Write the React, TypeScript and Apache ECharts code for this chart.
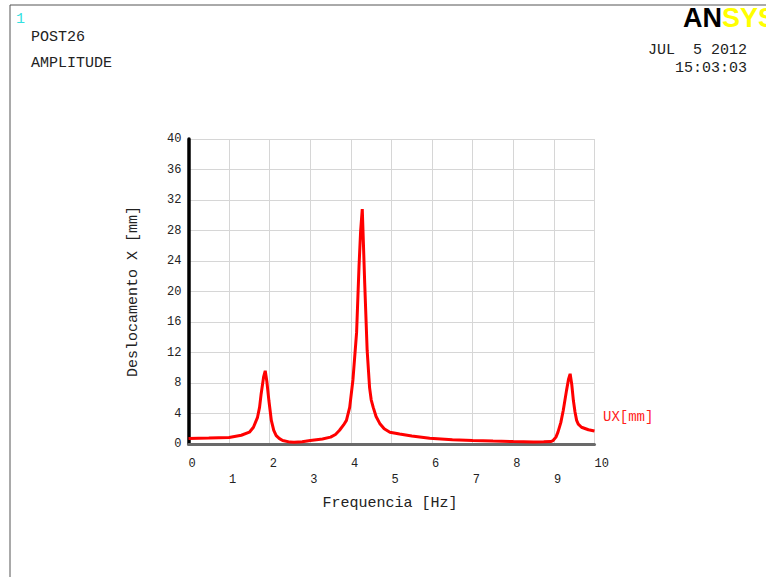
import React, { useEffect, useRef } from "react";
import * as echarts from "echarts";

// Frequency response (ANSYS POST26 amplitude)
const freqHz: number[] = [
  0.0, 0.5, 1.0, 1.3, 1.5, 1.6, 1.7, 1.75, 1.79, 1.85, 1.89, 1.93, 1.98, 2.04, 2.1, 2.16, 2.24, 2.32, 2.5,
  2.6, 2.8, 3.0, 3.3, 3.5, 3.62, 3.72, 3.82, 3.89, 3.97, 4.05, 4.14, 4.2, 4.24, 4.28, 4.31, 4.34, 4.4,
  4.46, 4.5, 4.55, 4.62, 4.71, 4.82, 4.96, 5.2, 5.5, 5.94, 6.5, 7.0, 7.5, 8.0, 8.5, 8.75, 8.92, 8.98,
  9.05, 9.1, 9.17, 9.23, 9.31, 9.36, 9.4, 9.44, 9.48, 9.52, 9.56, 9.6, 9.68, 9.85, 10.0,
];
const uxMm: number[] = [
  0.72, 0.78, 0.85, 1.15, 1.55, 2.2, 3.5, 4.8, 6.6, 8.8, 9.6, 8.2, 5.7, 3.1, 1.8, 1.1, 0.7, 0.45, 0.25,
  0.22, 0.3, 0.46, 0.65, 0.9, 1.25, 1.8, 2.5, 3.1, 4.8, 8.4, 14.6, 23.3, 28.0, 30.8, 26.0, 21.1, 12.3,
  7.4, 5.8, 4.8, 3.6, 2.7, 2.0, 1.55, 1.3, 1.05, 0.75, 0.55, 0.45, 0.38, 0.32, 0.27, 0.28, 0.32, 0.45,
  0.9, 1.55, 2.8, 4.4, 7.0, 8.5, 9.2, 7.8, 5.7, 4.2, 3.1, 2.6, 2.2, 1.87, 1.7,
];

const xTicks = { min: 0, max: 10, interval: 1 };
const yTicks = { min: 0, max: 40, interval: 4 };

const titleLines = ["POST26", "AMPLITUDE"];
const dateLines = ["JUL  5 2012", "15:03:03"];
const xName = "Frequencia [Hz]";
const yName = "Deslocamento X [mm]";
const seriesName = "UX[mm]";

const MONO = "Liberation Mono";

export default function App() {
  const ref = useRef<HTMLDivElement>(null);
  useEffect(() => {
    if (!ref.current) return;
    const chart = echarts.init(ref.current, null, { renderer: "svg" });
    const data = freqHz.map((f, i) => [f, uxMm[i]]);
    chart.setOption({
      animation: false,
      backgroundColor: "#ffffff",
      grid: { left: 188.5, top: 139, width: 406, height: 305, containLabel: false },
      xAxis: {
        type: "value",
        min: xTicks.min,
        max: xTicks.max,
        interval: xTicks.interval,
        axisLine: { show: true, onZero: false, lineStyle: { color: "#6a6a6a", width: 3 } },
        axisTick: { show: false },
        splitLine: { show: true, lineStyle: { color: "#d6d6d6", width: 1 } },
        axisLabel: {
          show: true,
          showMinLabel: true,
          showMaxLabel: true,
          hideOverlap: false,
          align: "left",
          margin: 12,
          fontFamily: MONO,
          fontSize: 12,
          lineHeight: 16,
          color: "#222",
          formatter: (v: number) => (Math.round(v) % 2 === 0 ? String(v) : "\n" + v),
        },
      },
      yAxis: {
        type: "value",
        min: yTicks.min,
        max: yTicks.max,
        interval: yTicks.interval,
        axisLine: { show: true, onZero: false, lineStyle: { color: "#000", width: 3.5 } },
        axisTick: { show: false },
        splitLine: { show: true, lineStyle: { color: "#d6d6d6", width: 1 } },
        axisLabel: {
          show: true,
          showMinLabel: true,
          showMaxLabel: true,
          margin: 7,
          fontFamily: MONO,
          fontSize: 12,
          color: "#222",
        },
      },
      series: [
        {
          name: seriesName,
          type: "line",
          data,
          showSymbol: false,
          symbol: "none",
          smooth: false,
          lineStyle: { color: "#ff0000", width: 3 },
          z: 5,
        },
      ],
      graphic: [
        { type: "line", shape: { x1: 10, y1: 5, x2: 766, y2: 5 }, style: { stroke: "#555", lineWidth: 1 } },
        { type: "line", shape: { x1: 10, y1: 5, x2: 10, y2: 577 }, style: { stroke: "#555", lineWidth: 1 } },
        {
          type: "text",
          x: 16,
          y: 19,
          style: { text: "1", fill: "#33e0e0", font: `15px '${MONO}'`, verticalAlign: "middle" },
        },
        {
          type: "text",
          x: 31,
          y: 37,
          style: { text: titleLines[0], fill: "#222", font: `15px '${MONO}'`, verticalAlign: "middle" },
        },
        {
          type: "text",
          x: 31,
          y: 63,
          style: { text: titleLines[1], fill: "#222", font: `15px '${MONO}'`, verticalAlign: "middle" },
        },
        {
          type: "text",
          x: 747,
          y: 50,
          style: { text: dateLines[0], fill: "#222", font: `15px '${MONO}'`, align: "right", verticalAlign: "middle" },
        },
        {
          type: "text",
          x: 747,
          y: 68,
          style: { text: dateLines[1], fill: "#222", font: `15px '${MONO}'`, align: "right", verticalAlign: "middle" },
        },
        {
          type: "text",
          x: 683,
          y: 18,
          style: {
            text: "{a|AN}{b|SYS}",
            verticalAlign: "middle",
            rich: {
              a: { fontFamily: "Liberation Sans", fontWeight: "bold", fontSize: 27, fill: "#000", color: "#000" },
              b: { fontFamily: "Liberation Sans", fontWeight: "bold", fontSize: 27, fill: "#ffff00", color: "#ffff00" },
            },
          },
        },
        {
          type: "text",
          x: 390,
          y: 503,
          style: { text: xName, fill: "#222", font: `15px '${MONO}'`, align: "center", verticalAlign: "middle" },
        },
        {
          type: "text",
          x: 133,
          y: 291.5,
          rotation: Math.PI / 2,
          style: { text: yName, fill: "#222", font: `15px '${MONO}'`, align: "center", verticalAlign: "middle" },
        },
        {
          type: "text",
          x: 603,
          y: 417,
          style: { text: seriesName, fill: "#ff2020", font: `14px '${MONO}'`, verticalAlign: "middle" },
        },
      ],
    });
    return () => chart.dispose();
  }, []);
  return (
    <div
      ref={ref}
      style={{ position: "fixed", left: 0, top: 0, width: 766, height: 577, background: "#fff" }}
    />
  );
}
